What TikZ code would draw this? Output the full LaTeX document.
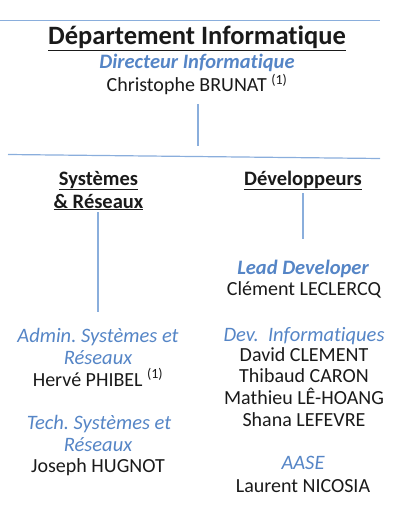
\documentclass[tikz,border=0pt]{standalone}
\usepackage{fontspec}
\setmainfont{Carlito}[Ligatures={NoCommon}]
\frenchspacing
\definecolor{rblue}{HTML}{5585C6}
\definecolor{rline}{HTML}{8AAEDC}
\definecolor{rtext}{HTML}{1A1A1A}
\newcommand{\ul}[1]{\underline{#1}}
\begin{document}
\begin{tikzpicture}[x=1pt,y=-1pt,
  hdr/.style={anchor=base,inner sep=0pt,font=\fontsize{26.5}{28}\selectfont\bfseries,text=rtext},
  sub/.style={anchor=base,inner sep=0pt,font=\fontsize{20.5}{22}\selectfont\bfseries,text=rtext},
  role/.style={anchor=base,inner sep=0pt,font=\fontsize{20.5}{22}\selectfont\itshape,text=rblue},
  brole/.style={anchor=base,inner sep=0pt,font=\fontsize{20.5}{22}\selectfont\bfseries\itshape,text=rblue},
  nm/.style={anchor=base,inner sep=0pt,font=\fontsize{20}{22}\selectfont,text=rtext},
  conn/.style={draw=rline,line width=1.2pt}]
\useasboundingbox (0,0) rectangle (415,516);
% top rule
\coordinate (t1) at (0,20.5);
\coordinate (t2) at (380,20.5);
\draw[conn] (t1) -- (t2);
\node[hdr] (dept) at (197,45) {\ul{Département Informatique}};
\node[brole] (dir) at (197,69) {Directeur Informatique};
\node[nm] (cb) at (197,92) {Christophe BRUNAT \textsuperscript{(1)}};
\coordinate (v1a) at (198,104);
\coordinate (v1b) at (198,146);
\draw[conn] (v1a) -- (v1b);
\coordinate (h1) at (8,154.5);
\coordinate (h2) at (380,158.5);
\draw[conn] (h1) -- (h2);
% left branch
\node[sub] (sys1) at (98.5,185) {\ul{Systèmes}};
\node[sub] (sys2) at (98.5,208) {\ul{\& Réseaux}};
\coordinate (vla) at (98,212);
\coordinate (vlb) at (98,312);
\draw[conn] (vla) -- (vlb);
\node[role] (adm1) at (98,342) {Admin. Systèmes et};
\node[role] (adm2) at (98,364) {Réseaux};
\node[nm] (hp) at (98,386) {Hervé PHIBEL \textsuperscript{(1)}};
\node[role] (tec1) at (99,429) {Tech. Systèmes et};
\node[role] (tec2) at (98,451) {Réseaux};
\node[nm] (jh) at (98,472) {Joseph HUGNOT};
% right branch
\node[sub] (dev) at (303,185) {\ul{Développeurs}};
\coordinate (vra) at (303,193);
\coordinate (vrb) at (303,239);
\draw[conn] (vra) -- (vrb);
\node[brole] (lead) at (303,274) {Lead Developer};
\node[nm] (cl) at (304,295) {Clément LECLERCQ};
\node[role] (devi) at (304,341) {Dev.\ \ Informatiques};
\node[nm] (dc) at (304,361) {David CLEMENT};
\node[nm] (tc) at (304,382) {Thibaud CARON};
\node[nm] (ml) at (304,404) {Mathieu LÊ-HOANG};
\node[nm] (sl) at (304,426) {Shana LEFEVRE};
\node[role] (aase) at (303,469) {AASE};
\node[nm] (ln) at (303,492) {Laurent NICOSIA};
\end{tikzpicture}
\end{document}
